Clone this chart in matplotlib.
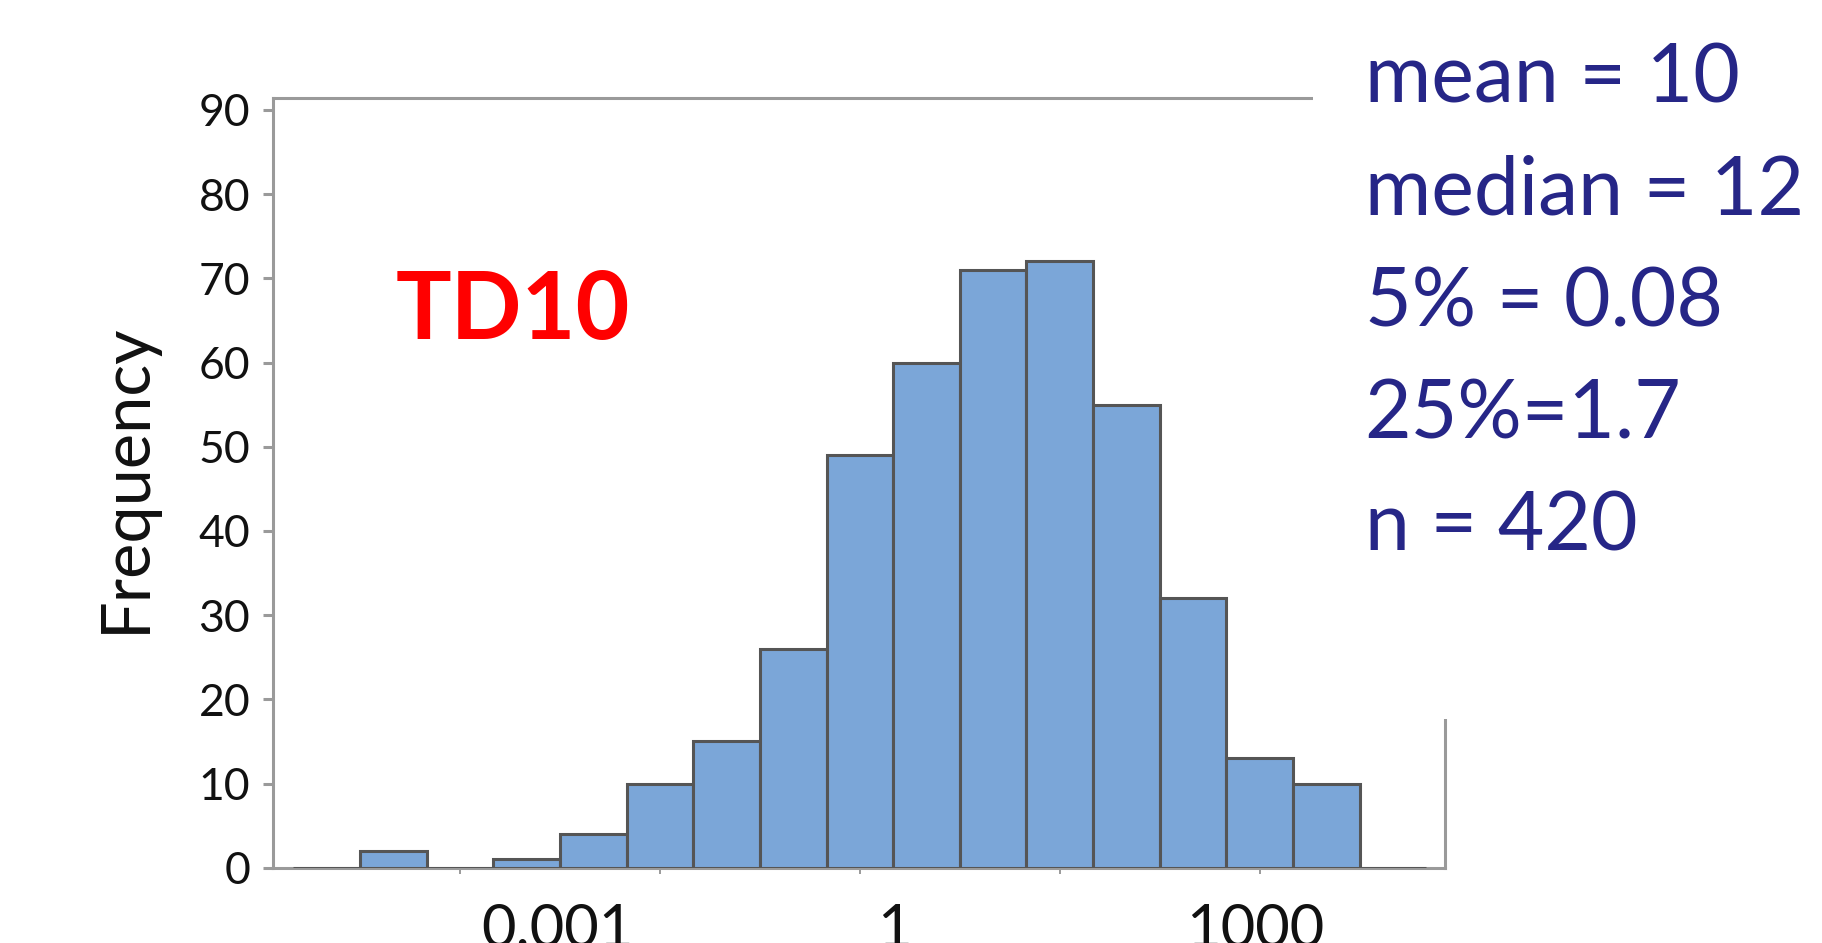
import matplotlib
matplotlib.use('Agg')
import matplotlib.pyplot as plt
from matplotlib.patches import Rectangle
from matplotlib.transforms import ScaledTranslation

# histogram of log10(TD10), half-decade bins
bin_centers = [-4.0, -3.5, -3.0, -2.5, -2.0, -1.5, -1.0, -0.5, 0.0,
               0.5, 1.0, 1.5, 2.0, 2.5, 3.0, 3.5, 4.0]
counts = [0, 2, 0, 1, 4, 10, 15, 26, 49, 60, 71, 72, 55, 32, 13, 10, 0]
bin_width = 0.5

y_ticks = [0, 10, 20, 30, 40, 50, 60, 70, 80, 90]
x_ticks = [-3, -1.5, 0, 1.5, 3]
x_labels = ['0.001', '1', '1000']
x_label_pos = [-3, 0, 3]
stats_lines = ['mean = 10', 'median = 12', '5% = 0.08', '25%=1.7', 'n = 420']
panel_label = 'TD10'

plt.rcParams.update({'font.family': ['Lato', 'DejaVu Sans']})
GREY = '#9a9a9a'
NAVY = '#262687'

fig = plt.figure(figsize=(18.22, 9.43), dpi=100)
ax = fig.add_axes([0.15, 0.0798, 0.6431, 0.8166])

ax.bar(bin_centers, counts, width=bin_width, color='#7ba6d8',
       edgecolor='#555555', linewidth=2.2, zorder=3)

ax.set_xlim(-4.40, 4.39)
ax.set_ylim(0, 91.45)
for sp in ax.spines.values():
    sp.set_color(GREY)
    sp.set_linewidth(2.2)

ax.set_yticks(y_ticks)
ax.tick_params(axis='y', length=7.2, width=2.2, color=GREY, pad=9.4,
               labelsize=32, labelcolor='#111111')
ax.set_xticks(x_ticks)
ax.set_xticklabels([])
ax.tick_params(axis='x', length=4.3, width=1.4, color=GREY)

# tick labels sit a little off their ticks in the original
shifts = [0.98, 0.345, -0.045]
for pos, lab, dx in zip(x_label_pos, x_labels, shifts):
    tr = ax.get_xaxis_transform() + ScaledTranslation(dx, -0.35, fig.dpi_scale_trans)
    ax.text(pos, 0, lab, transform=tr, ha='center', va='top',
            fontsize=43, color='#111111', clip_on=False)

ax.set_ylabel('Frequency', fontsize=48, color='#111111')
ax.yaxis.set_label_coords(-0.099, 0.507)

ax.text(0.2044, 0.6866, panel_label, transform=ax.transAxes, ha='center',
        va='baseline', fontsize=67, fontweight='bold', color='#ff0000')

# white block hides the top-right corner of the frame
fig.add_artist(Rectangle((0.7206, 0.2375), 0.3, 0.8, transform=fig.transFigure,
                         facecolor='white', edgecolor='none', zorder=4))

y0 = 0.8908
for i, line in enumerate(stats_lines):
    fig.text(0.749, y0 - i * 0.1186, line, ha='left', va='baseline',
             fontsize=58, color=NAVY, zorder=5)

fig.savefig('out.png', dpi=100)
